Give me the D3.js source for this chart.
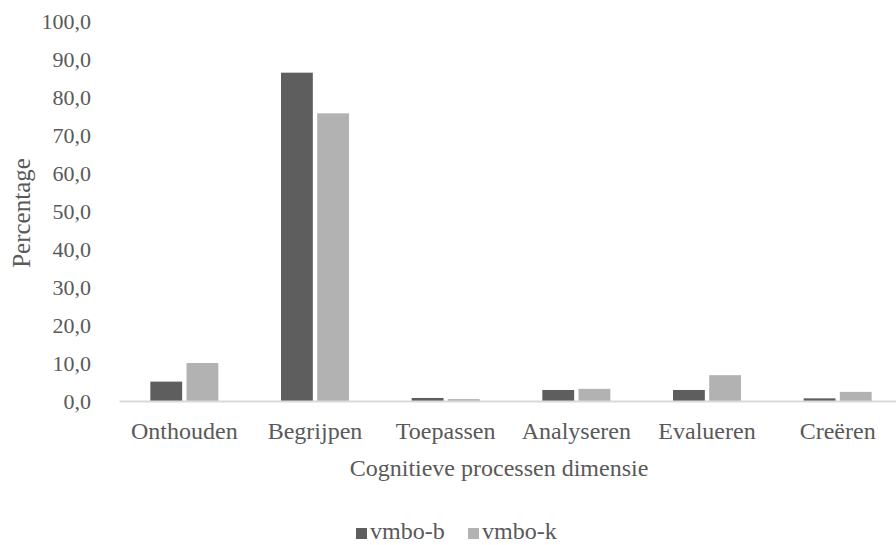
<!DOCTYPE html>
<html>
<head>
<meta charset="utf-8">
<script src="https://cdn.jsdelivr.net/npm/d3@7"></script>
<style>
  html, body { margin: 0; padding: 0; background: #ffffff; }
  svg { display: block; }
  text { font-family: "Liberation Serif", "Times New Roman", serif; fill: #595959; }
</style>
</head>
<body>
<svg id="chart" width="896" height="545"></svg>
<script>
// Share of items per cognitive process dimension, per school track
const categories = ["Onthouden", "Begrijpen", "Toepassen", "Analyseren", "Evalueren", "Creëren"];
const seriesNames = ["vmbo-b", "vmbo-k"];
const vmboB = [5.1, 86.4, 0.8, 2.9, 2.9, 0.7];
const vmboK = [10.0, 75.7, 0.5, 3.2, 6.8, 2.4];
const yTicks = [0, 10, 20, 30, 40, 50, 60, 70, 80, 90, 100];
const colors = ["#5e5e5e", "#b2b2b2"];

const svg = d3.select("#chart");
const margin = { left: 119, right: 903, top: 21, bottom: 401 };

const x = d3.scaleBand().domain(categories).range([margin.left, margin.right]);
const x1 = d3.scaleBand().domain(seriesNames).range([0, 68]).paddingInner(0.12);
const y = d3.scaleLinear().domain([0, 100]).range([margin.bottom, margin.top]);

const fmt = v => d3.format(".1f")(v).replace(".", ",");

// value axis labels (no axis line, no gridlines)
const yAxis = d3.axisLeft(y).tickValues(yTicks).tickFormat(fmt).tickSize(0).tickPadding(0);
const gy = svg.append("g").attr("transform", `translate(91,0)`).call(yAxis);
gy.select(".domain").remove();
gy.selectAll("text").style("font-size", "22px").style("font-family", "Liberation Serif").attr("fill", "#595959");

// bars
const rows = categories.map((c, i) => ({ cat: c, vals: [vmboB[i], vmboK[i]] }));
const groups = svg.append("g").selectAll("g").data(rows).join("g")
  .attr("transform", d => `translate(${x(d.cat) + (x.bandwidth() - 68) / 2},0)`);
groups.selectAll("rect").data(d => d.vals.map((v, j) => ({ name: seriesNames[j], v, j })))
  .join("rect")
  .attr("x", d => x1(d.name))
  .attr("width", x1.bandwidth())
  .attr("y", d => y(d.v))
  .attr("height", d => y(0) - y(d.v))
  .attr("fill", d => colors[d.j]);

// category axis
const xAxis = d3.axisBottom(x).tickSize(0).tickPadding(0);
const gx = svg.append("g").attr("transform", `translate(0,${y(0)})`).call(xAxis);
gx.select(".domain").attr("stroke", "#d9d9d9").attr("stroke-width", 2);
gx.selectAll("text").style("font-size", "24px").style("font-family", "Liberation Serif")
  .attr("fill", "#595959").attr("dy", "1.6em");

// axis titles
svg.append("text").attr("x", 499).attr("y", 476)
  .attr("text-anchor", "middle").style("font-size", "24px")
  .text("Cognitieve processen dimensie");
svg.append("text")
  .attr("transform", `translate(30,${y(50) + 2}) rotate(-90)`)
  .attr("text-anchor", "middle").style("font-size", "25px")
  .text("Percentage");

// legend
const legend = svg.append("g").attr("transform", "translate(356,534)");
const items = [{ name: seriesNames[0], x: 0 }, { name: seriesNames[1], x: 112 }];
items.forEach((it, j) => {
  legend.append("rect").attr("x", it.x).attr("y", -6).attr("width", 11).attr("height", 11).attr("fill", colors[j]);
  legend.append("text").attr("x", it.x + 14).attr("y", 5).style("font-size", "24px").text(it.name);
});
</script>
</body>
</html>
